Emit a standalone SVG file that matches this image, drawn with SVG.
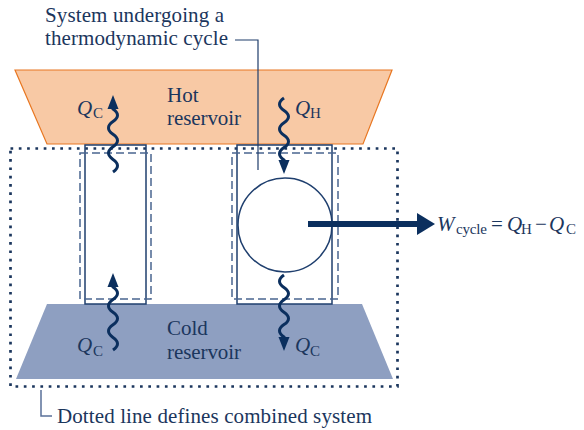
<svg xmlns="http://www.w3.org/2000/svg" width="584" height="430" viewBox="0 0 584 430">
<defs>
<style>
.t{font-family:"Liberation Serif","Times New Roman",serif;font-size:21px;fill:#1b365d}
.q{font-family:"Liberation Serif","Times New Roman",serif;font-size:21px;font-style:italic;fill:#1b365d}
.s{font-family:"Liberation Serif","Times New Roman",serif;font-size:15px;fill:#1b365d}
.wave{fill:none;stroke:#0b2f5e;stroke-width:3;marker-end:url(#ah)}
.sys{fill:none;stroke:#1f3f6e;stroke-width:1.5}
.dash{fill:none;stroke:#4a6590;stroke-width:1.5;stroke-dasharray:8 4}
.lead{fill:none;stroke:#1f3d6b;stroke-width:1.2}
</style>
<marker id="ah" markerUnits="userSpaceOnUse" markerWidth="16" markerHeight="13" refX="1" refY="6" orient="auto">
<path d="M0,0.5 L14,6 L0,11.5 Z" fill="#0b2f5e"/>
</marker>
</defs>

<g id="hot-reservoir">
<polygon points="15,70 392,70 363,144 47,144" fill="#f8c9a5" stroke="#e87722" stroke-width="1.2"/>
<text class="t" x="167" y="102">Hot</text>
<text class="t" x="167" y="125" textLength="74" lengthAdjust="spacing">reservoir</text>
</g>

<g id="cold-reservoir">
<polygon points="47,304 362,304 393,379 16,379" fill="#8e9fc1"/>
<text class="t" x="167" y="335">Cold</text>
<text class="t" x="167" y="359" textLength="74" lengthAdjust="spacing">reservoir</text>
</g>

<g id="combined-system">
<rect x="10.5" y="148.5" width="387" height="238" fill="none" stroke="#1b365d" stroke-width="2.7" stroke-dasharray="2.7 5.6"/>
</g>

<g id="left-system">
<rect class="sys" x="85" y="145" width="61" height="159"/>
<rect class="dash" x="80" y="153" width="71" height="146"/>
</g>

<g id="right-system">
<rect class="sys" x="237" y="145" width="95" height="159"/>
<rect class="dash" x="232" y="153" width="106" height="146"/>
<circle cx="285" cy="225" r="47" fill="none" stroke="#1f3f6e" stroke-width="1.5"/>
</g>

<g id="connectors">
<path class="wave" d="M113,172 Q122,165.7 113,159.4 T113,146.8 T113,134.2 T113,121.6 T113,109 L113,108"/>
<path class="wave" d="M113,350 Q122,343.7 113,337.4 T113,324.8 T113,312.2 T113,299.6 T113,287 L113,286"/>
<path class="wave" d="M284,98 Q275,104.2 284,110.4 T284,122.8 T284,135.2 T284,147.6 T284,160 L284,161"/>
<path class="wave" d="M284,275 Q275,281.2 284,287.4 T284,299.8 T284,312.2 T284,324.6 T284,337 L284,338"/>
<line x1="308" y1="224" x2="420" y2="224" stroke="#0b2f5e" stroke-width="6"/>
<polygon points="417,213 435,224 417,235" fill="#0b2f5e"/>
<polyline class="lead" points="235,40 258,40 258,170"/>
<polyline points="41,390 41,416 52,416" fill="none" stroke="#5a7099" stroke-width="1.5"/>
</g>

<g id="labels">
<text class="t" x="45" y="22" textLength="179" lengthAdjust="spacing">System undergoing a</text>
<text class="t" x="45" y="45" textLength="183" lengthAdjust="spacing">thermodynamic cycle</text>
<text class="t" x="57" y="423" textLength="315" lengthAdjust="spacing">Dotted line defines combined system</text>

<text class="q" x="77" y="115">Q</text><text class="s" x="93" y="118">C</text>
<text class="q" x="295" y="115">Q</text><text class="s" x="310" y="118">H</text>
<text class="q" x="77" y="352">Q</text><text class="s" x="93" y="356">C</text>
<text class="q" x="295" y="352">Q</text><text class="s" x="310" y="356">C</text>

<text class="q" x="437" y="231">W</text>
<text class="s" x="456" y="234" textLength="31" lengthAdjust="spacing">cycle</text>
<text class="t" x="491" y="231">=</text>
<text class="q" x="507" y="231">Q</text><text class="s" x="521" y="234">H</text>
<text class="t" x="535" y="231">−</text>
<text class="q" x="549" y="231">Q</text><text class="s" x="566" y="234">C</text>
</g>
</svg>
